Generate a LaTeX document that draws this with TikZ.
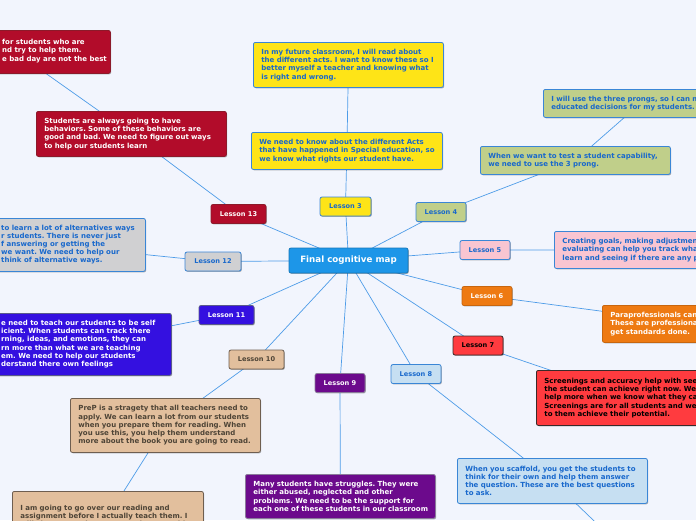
\documentclass[tikz,border=0pt]{standalone}
\usepackage{fontspec}
\setmainfont{DejaVu Sans}
\usetikzlibrary{shadows}
\pgfdeclarelayer{back}
\pgfdeclarelayer{bg}
\pgfsetlayers{back,bg,main}
\definecolor{bgc}{HTML}{F2F5FD}
\definecolor{linec}{HTML}{4E9CE8}
\definecolor{blueB}{HTML}{3A86D6}
\definecolor{blueT}{HTML}{1868CC}
\definecolor{cCen}{HTML}{1D96E8}
\definecolor{cRed}{HTML}{B20C2A}
\definecolor{cRedB}{HTML}{8C1A2A}
\definecolor{cYel}{HTML}{FEE417}
\definecolor{cGrn}{HTML}{C0CF8A}
\definecolor{cPink}{HTML}{F9C5D1}
\definecolor{cOrg}{HTML}{EE7A12}
\definecolor{cOrgB}{HTML}{C8660E}
\definecolor{cRed2}{HTML}{FF3B3F}
\definecolor{cRed2B}{HTML}{3A2A2A}
\definecolor{cLB}{HTML}{C6DFF2}
\definecolor{cPur}{HTML}{6C0A8C}
\definecolor{cPurB}{HTML}{8A7A9A}
\definecolor{cTan}{HTML}{E2BF9D}
\definecolor{cTanB}{HTML}{6E5E50}
\definecolor{cTanT}{HTML}{4E4436}
\definecolor{cVio}{HTML}{3410E0}
\definecolor{cVioB}{HTML}{5A5A8A}
\definecolor{cGry}{HTML}{D0D0D2}
\newcommand{\ml}[1]{\mbox{#1}}
\begin{document}
\frenchspacing
\begin{tikzpicture}[x=1pt,y=-1pt,
  base/.style={rectangle, rounded corners=2pt, line width=0.8pt,
    font=\fontsize{7}{8.2}\selectfont\bfseries,
    drop shadow={shadow xshift=0.8pt, shadow yshift=-0.9pt, opacity=0.3, fill=black}},
  tbox/.style={base, anchor=north west, inner xsep=8pt, inner ysep=0pt, align=left},
  txt/.style={anchor=west, inner sep=0pt, align=left, font=\fontsize{7}{8.2}\selectfont\bfseries},
  lesson/.style={base, minimum height=19pt, inner sep=0pt, font=\fontsize{6.6}{7}\selectfont\bfseries},
  cen/.style={base, fill=cCen, draw=cCen!80!black, text=white, minimum width=119pt, minimum height=25pt, inner sep=0pt, font=\fontsize{8.7}{10}\selectfont\bfseries},
  redA/.style={fill=cRed, draw=cRedB, text=white},
  yel/.style={fill=cYel, draw=blueB, text=blueT},
  grn/.style={fill=cGrn, draw=blueB, text=blueT},
  pnk/.style={fill=cPink, draw=blueB, text=blueT},
  org/.style={fill=cOrg, draw=cOrgB, text=white},
  redB/.style={fill=cRed2, draw=cRed2B, text=black},
  lbl/.style={fill=cLB, draw=blueB, text=blueT},
  pur/.style={fill=cPur, draw=cPurB, text=white},
  tan/.style={fill=cTan, draw=cTanB, text=cTanT},
  vio/.style={fill=cVio, draw=cVioB, text=white},
  gry/.style={fill=cGry, draw=blueB, text=blueT},
  conn/.style={draw=linec, line width=0.7pt}
]
\begin{pgfonlayer}{back}
\fill[bgc] (0,0) rectangle (696,520);
\end{pgfonlayer}
\useasboundingbox (0,0) rectangle (696,520);

% central
\node[cen] (c) at (348.5,260.5) {Final cognitive map};

% lessons
\node[lesson, redA, minimum width=55pt] (l13) at (238.5,214) {Lesson 13};
\node[lesson, yel, minimum width=51pt] (l3) at (345.5,206.5) {Lesson 3};
\node[lesson, grn, minimum width=50pt] (l4) at (441,212) {Lesson 4};
\node[lesson, pnk, minimum width=50pt] (l5) at (485,250) {Lesson 5};
\node[lesson, org, minimum width=50pt] (l6) at (487,296) {Lesson 6};
\node[lesson, redB, minimum width=50pt] (l7) at (478,345.5) {Lesson 7};
\node[lesson, lbl, minimum width=50pt] (l8) at (416,374) {Lesson 8};
\node[lesson, pur, minimum width=50pt] (l9) at (340,383) {Lesson 9};
\node[lesson, tan, minimum width=55pt] (l10) at (256.5,359.5) {Lesson 10};
\node[lesson, vio, minimum width=55pt] (l11) at (226.5,315) {Lesson 11};
\node[lesson, gry, minimum width=56pt] (l12) at (213,261.5) {Lesson 12};

% Lesson 13 boxes
\node[tbox, redA, minimum width=190pt, minimum height=43pt] (a) at (-80,30) {};
\node[txt, text=white] (at) at (2,51) {for students who are\\nd try to help them.\\e bad day are not the best};
\node[tbox, redA, text width=174pt, minimum height=45pt] (b) at (36,111) {\ml{Students are always going to have}\\\ml{behaviors. Some of these behaviors are}\\\ml{good and bad. We need to figure out ways}\\\ml{to help our students learn}};

% Lesson 3 boxes
\node[tbox, yel, text width=174pt, minimum height=45pt] (cc) at (253,42) {\ml{In my future classroom, I will read about}\\\ml{the different acts. I want to know these so I}\\\ml{better myself a teacher and knowing what}\\\ml{is right and wrong.}};
\node[tbox, yel, text width=175pt, minimum height=37pt] (d) at (251,132) {\ml{We need to know about the different Acts}\\\ml{that have happened in Special education, so}\\\ml{we know what rights our student have.}};

% Lesson 4 boxes
\node[tbox, grn, text width=174pt, minimum height=28pt] (e) at (480,146) {\ml{When we want to test a student capability,}\\\ml{we need to use the 3 prong.}};
\node[tbox, grn, text width=178pt, minimum height=28pt] (f) at (543,89) {\ml{I will use the three prongs, so I can m}\\\ml{educated decisions for my students.}};

% Lesson 5
\node[tbox, pnk, text width=174pt, minimum height=37pt] (g) at (554,231) {\ml{Creating goals, making adjustmen}\\\ml{evaluating can help you track wha}\\\ml{learn and seeing if there are any p}};

% Lesson 6
\node[tbox, org, text width=174pt, minimum height=37pt] (h) at (602,305) {Paraprofessionals can\\These are professiona\\get standards done.};

% Lesson 7
\node[tbox, redB, text width=174pt, minimum height=55pt] (i) at (536,370) {\ml{Screenings and accuracy help with see}\\\ml{the student can achieve right now. We}\\\ml{help more when we know what they ca}\\\ml{Screenings are for all students and we}\\\ml{to them achieve their potential.}};

% Lesson 8
\node[tbox, lbl, text width=174pt, minimum height=45pt] (j) at (457,458) {\ml{When you scaffold, you get the students to}\\\ml{think for their own and help them answer}\\\ml{the question. These are the best questions}\\\ml{to ask.}};
\coordinate (jx) at (640,565);

% Lesson 9
\node[tbox, pur, text width=174pt, minimum height=44pt] (k) at (245,474) {\ml{Many students have struggles. They were}\\\ml{either abused, neglected and other}\\\ml{problems. We need to be the support for}\\\ml{each one of these students in our classroom}};

% Lesson 10
\node[tbox, tan, text width=174pt, minimum height=54pt] (l) at (70,398) {\ml{PreP is a stragety that all teachers need to}\\\ml{apply. We can learn a lot from our students}\\\ml{when you prepare them for reading. When}\\\ml{you use this, you help them understand}\\\ml{more about the book you are going to read.}};
\node[tbox, tan, text width=175pt, minimum height=50pt] (m) at (12,491) {\ml{I am going to go over our reading and}\\\ml{assignment before I actually teach them. I}\\\ml{will show examples so my students would}\\};

% Lesson 11
\node[tbox, vio, minimum width=190pt, minimum height=62pt] (n) at (-19,313) {};
\node[txt, text=white] (nt) at (1,344) {e need to teach our students to be self\\icient. When students can track there\\rning, ideas, and emotions, they can\\rn more than what we are teaching\\em. We need to help our students\\derstand there own feelings};

% Lesson 12
\node[tbox, gry, minimum width=190pt, minimum height=53pt] (o) at (-45,218) {};
\node[txt, text=blueT] (ot) at (1,244.5) {to learn a lot of alternatives ways\\r students. There is never just\\f answering or getting the\\we want. We need to help our\\think of alternative ways.};

% connectors
\begin{pgfonlayer}{bg}
\foreach \t in {l13,l3,l4,l5,l6,l7,l8,l9,l10,l11,l12}
  \draw[conn] (c.center) -- (\t.center);
\draw[conn] (l13.center) -- (b.center);
\draw[conn] (b.center) -- (a.center);
\draw[conn] (l3.center) -- (d.center);
\draw[conn] (d.center) -- (cc.center);
\draw[conn] (l4.center) -- (e.center);
\draw[conn] (e.center) -- (f.center);
\draw[conn] (l5.center) -- (g.center);
\draw[conn] (l6.center) -- (h.center);
\draw[conn] (l7.center) -- (i.center);
\draw[conn] (l8.center) -- (j.center);
\draw[conn] (j.center) -- (jx);
\draw[conn] (l9.center) -- (k.center);
\draw[conn] (l10.center) -- (l.center);
\draw[conn] (l.center) -- (m.center);
\draw[conn] (l11.center) -- (n.center);
\draw[conn] (l12.center) -- (o.center);
\end{pgfonlayer}
\end{tikzpicture}
\end{document}
